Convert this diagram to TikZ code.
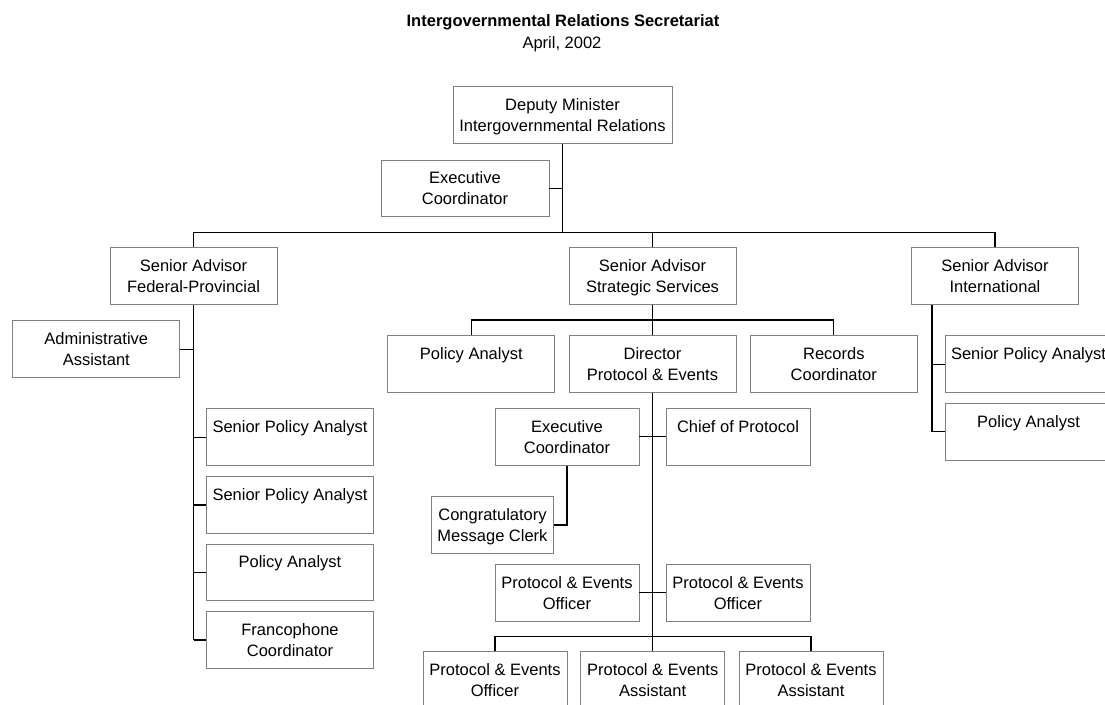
\documentclass[tikz,border=0pt]{standalone}
\usepackage{fontspec}
\setmainfont{Liberation Sans}
\definecolor{boxgray}{RGB}{128,128,128}
\newcommand{\twol}[2]{\begin{tabular}{@{}c@{}}\rule{0pt}{18.1pt}#1\\\mbox{}#2\end{tabular}}
\begin{document}
\begin{tikzpicture}[x=1pt,y=-1pt,
  box/.style={draw=boxgray, line width=0.9pt, rectangle, inner sep=0pt,
    minimum height=56.7pt, minimum width=167pt, font=\fontsize{16.5}{21}\selectfont},
  sbox/.style={box, minimum width=144pt},
  conn/.style={draw=black, line width=1.2pt},
  ttl/.style={anchor=base, inner sep=0pt, font=\fontsize{16.5}{21}\selectfont}]
\clip (0,0) rectangle (1105,704);
\fill[white] (0,0) rectangle (1105,704);

% title
\node[ttl, font=\fontsize{16.5}{21}\selectfont\bfseries] (title) at (563,26.5) {Intergovernmental Relations Secretariat};
\node[ttl] (date) at (562,48.5) {April, 2002};

% boxes
\node[box, minimum width=219pt] (dm) at (562.5,115) {\twol{Deputy Minister}{Intergovernmental Relations}};
\node[box, minimum width=168pt] (ec1) at (465,188.5) {\twol{Executive}{Coordinator}};
\node[box] (fp) at (193.5,275.8) {\twol{Senior Advisor}{Federal-Provincial}};
\node[box] (ss) at (652.5,275.8) {\twol{Senior Advisor}{Strategic Services}};
\node[box] (intl) at (995,275.8) {\twol{Senior Advisor}{International}};
\node[box] (aa) at (96.3,349.2) {\twol{Administrative}{Assistant}};
\node[box] (pa1) at (471.3,364) {\twol{Policy Analyst}{}};
\node[box] (dir) at (652.5,364) {\twol{Director}{Protocol \& Events}};
\node[box] (rc) at (833.8,364) {\twol{Records}{Coordinator}};
\node[box] (spar) at (1028.5,364.2) {\twol{Senior Policy Analyst}{}};
\node[box] (par) at (1028.5,431.7) {\twol{Policy Analyst}{}};
\node[sbox] (ec2) at (567,436.7) {\twol{Executive}{Coordinator}};
\node[sbox] (cp) at (738,436.7) {\twol{Chief of Protocol}{}};
\node[box, minimum width=121.6pt] (cmc) at (492.5,525) {\twol{Congratulatory}{Message Clerk}};
\node[sbox] (peo1) at (567,592.7) {\twol{Protocol \& Events}{Officer}};
\node[sbox] (peo2) at (738,592.7) {\twol{Protocol \& Events}{Officer}};
\node[sbox] (peo3) at (495,680) {\twol{Protocol \& Events}{Officer}};
\node[sbox] (pea1) at (652.7,680) {\twol{Protocol \& Events}{Assistant}};
\node[sbox] (pea2) at (811,680) {\twol{Protocol \& Events}{Assistant}};
\node[box] (spa1) at (290,437.2) {\twol{Senior Policy Analyst}{}};
\node[box] (spa2) at (290,505) {\twol{Senior Policy Analyst}{}};
\node[box] (pa2) at (290,572.4) {\twol{Policy Analyst}{}};
\node[box] (fc) at (290,640) {\twol{Francophone}{Coordinator}};

% helper coordinates
\coordinate (busL) at (193.5,232.3);
\coordinate (busR) at (995,232.3);
\coordinate (ssbus) at (652.5,320);
\coordinate (dbus) at (652.5,636.7);
\coordinate (itrunk) at (932,0);

% connectors
\draw[conn] (dm.south) -- (dm.south |- busL);
\draw[conn] (ec1.east) -- (ec1.east -| dm.south);
\draw[conn] (fp.north) -- (busL) -- (busR) -- (intl.north);
\draw[conn] (ss.north) -- (ss.north |- busL);

\draw[conn] (fp.south) -- (fp.south |- fc.west);
\draw[conn] (aa.east) -- (aa.east -| fp.south);
\draw[conn] (spa1.west) -- (spa1.west -| fp.south);
\draw[conn] (spa2.west) -- (spa2.west -| fp.south);
\draw[conn] (pa2.west) -- (pa2.west -| fp.south);
\draw[conn] (fc.west) -- (fc.west -| fp.south);

\draw[conn] (ss.south) -- (ssbus);
\draw[conn] (pa1.north) -- (pa1.north |- ssbus) -- (rc.north |- ssbus) -- (rc.north);
\draw[conn] (dir.north) -- (ssbus);

\draw[conn] (dir.south) -- (dbus);
\draw[conn] (ec2.east) -- (cp.west);
\draw[conn] (peo1.east) -- (peo2.west);
\draw[conn] (peo3.north) -- (peo3.north |- dbus) -- (pea2.north |- dbus) -- (pea2.north);
\draw[conn] (pea1.north) -- (pea1.north |- dbus);
\draw[conn] (ec2.south) -- (ec2.south |- cmc.east) -- (cmc.east);

\draw[conn] (intl.south -| itrunk) -- (par.west -| itrunk);
\draw[conn] (spar.west) -- (spar.west -| itrunk);
\draw[conn] (par.west) -- (par.west -| itrunk);
\end{tikzpicture}
\end{document}
